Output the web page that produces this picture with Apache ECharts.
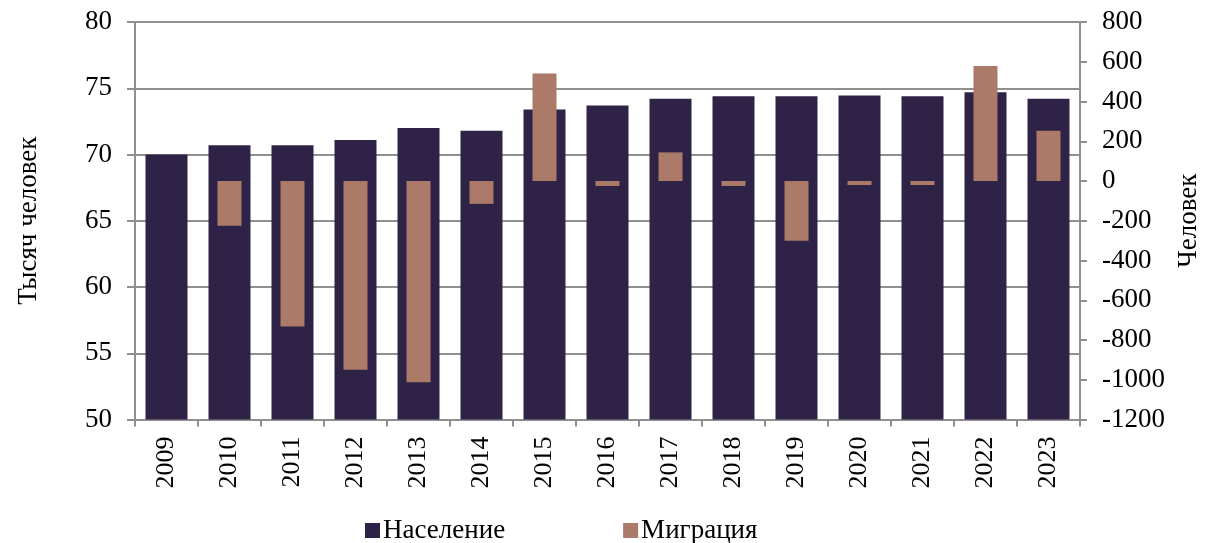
<!DOCTYPE html>
<html>
<head>
<meta charset="utf-8">
<script src="https://cdn.jsdelivr.net/npm/echarts@6/dist/echarts.min.js"></script>
<style>
html,body{margin:0;padding:0;background:#fff;}
#chart{width:1222px;height:543px;}
</style>
</head>
<body>
<div id="chart"></div>
<script>
const years = ['2009','2010','2011','2012','2013','2014','2015','2016','2017','2018','2019','2020','2021','2022','2023'];
const population = [70.0, 70.7, 70.7, 71.1, 72.0, 71.8, 73.4, 73.7, 74.2, 74.4, 74.4, 74.45, 74.4, 74.7, 74.2];
const migration = [null, -225, -732, -950, -1012, -115, 541, -25, 144, -25, -300, -20, -20, 579, 253];
const seriesNames = ['Население', 'Миграция'];
const leftTitle = 'Тысяч человек';
const rightTitle = 'Человек';

const FONT = 'Liberation Serif';
const FS = 27;
const AX = '#8f8f8f';

const chart = echarts.init(document.getElementById('chart'));
chart.setOption({
  animation: false,
  textStyle: {fontFamily: FONT},
  grid: {left: 135, right: 142, top: 22, bottom: 123.5},
  legend: {
    data: seriesNames,
    top: 512,
    left: 360,
    itemWidth: 15, itemHeight: 15, itemGap: 118,
    icon: 'rect',
    textStyle: {fontFamily: FONT, fontSize: FS, color: '#000', padding: [0,0,0,-2]}
  },
  xAxis: [{
    type: 'category',
    data: years,
    position: 'bottom',
    axisLine: {onZero: false, lineStyle: {color: AX, width: 2}},
    axisTick: {show: true, length: 7, lineStyle: {color: AX, width: 2}},
    axisLabel: {rotate: 90, margin: 17, fontFamily: FONT, fontSize: 26, color: '#000'},
    splitLine: {show: false}
  }, {
    type: 'category',
    data: years,
    position: 'top',
    show: false,
    axisLine: {show: false, onZero: false},
    axisTick: {show: false},
    axisLabel: {show: false},
    splitLine: {show: false}
  }],
  yAxis: [{
    type: 'value', min: 50, max: 80, interval: 5,
    name: leftTitle, nameLocation: 'middle', nameGap: 93, nameRotate: 90,
    nameTextStyle: {fontFamily: FONT, fontSize: FS, color: '#000'},
    axisLine: {show: true, lineStyle: {color: AX, width: 2}},
    axisTick: {show: true, length: 8, lineStyle: {color: AX, width: 2}},
    axisLabel: {margin: 23, fontFamily: FONT, fontSize: FS, color: '#000'},
    splitLine: {show: true, lineStyle: {color: AX, width: 2}}
  }, {
    type: 'value', min: -1200, max: 800, interval: 200,
    position: 'right',
    name: rightTitle, nameLocation: 'middle', nameGap: 86, nameRotate: 90,
    nameTextStyle: {fontFamily: FONT, fontSize: FS, color: '#000'},
    axisLine: {show: true, lineStyle: {color: AX, width: 2}},
    axisTick: {show: true, length: 7, lineStyle: {color: AX, width: 2}},
    axisLabel: {margin: 22, fontFamily: FONT, fontSize: FS, color: '#000', formatter: v => String(v)},
    splitLine: {show: false}
  }],
  series: [{
    name: seriesNames[0],
    type: 'bar',
    xAxisIndex: 0, yAxisIndex: 0,
    data: population,
    barWidth: 42,
    itemStyle: {color: '#2e2346'}
  }, {
    name: seriesNames[1],
    type: 'bar',
    xAxisIndex: 1, yAxisIndex: 1,
    data: migration,
    barWidth: 24,
    z: 3,
    itemStyle: {color: '#ab7a69'}
  }]
});
</script>
</body>
</html>
